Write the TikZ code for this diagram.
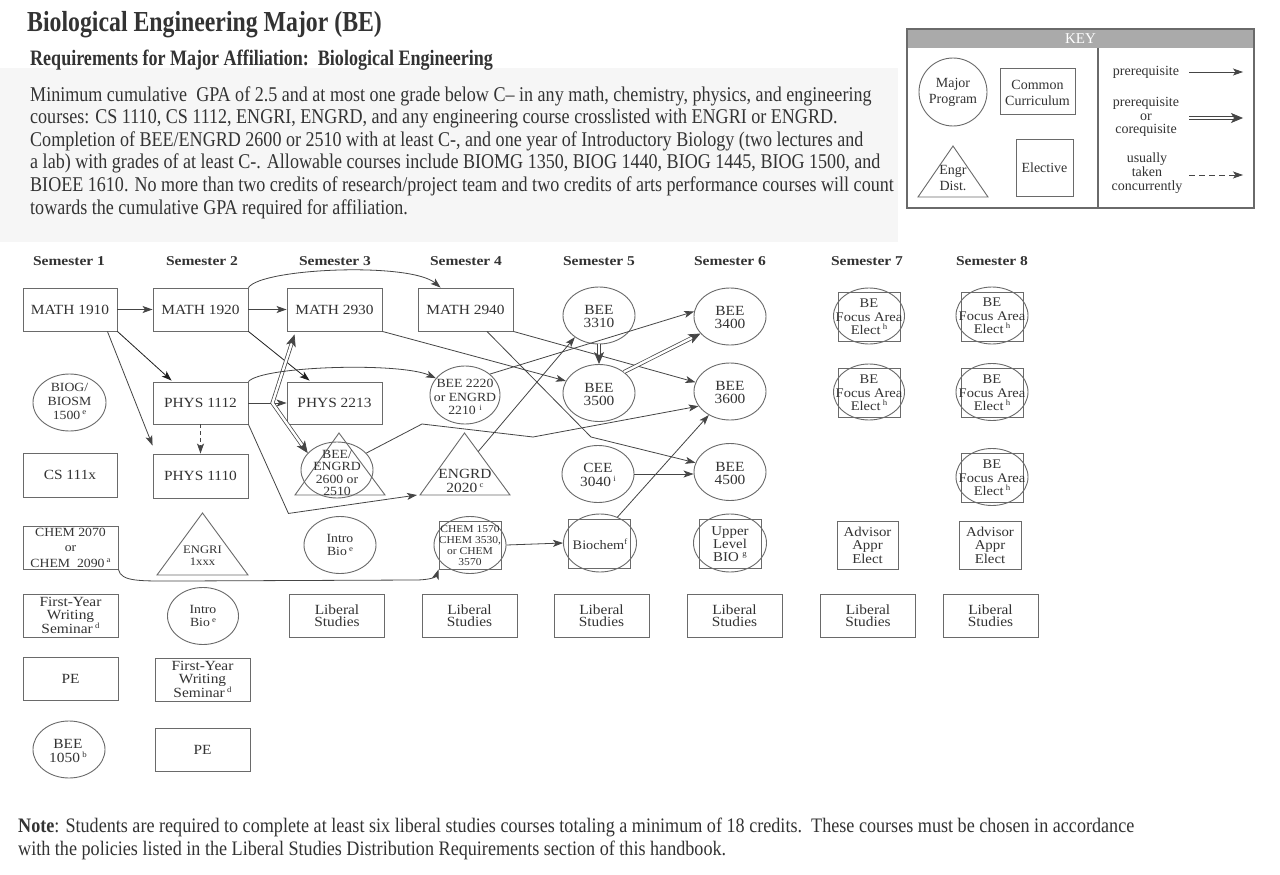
\documentclass[tikz,border=0pt]{standalone}
\usepackage{fontspec}
\setmainfont{Liberation Serif}
\newfontfamily\condfont[FakeStretch=0.82]{Liberation Serif}
\newfontfamily\bodyfont[FakeStretch=0.86]{Liberation Serif}
\newfontfamily\notefont[FakeStretch=0.88]{Liberation Serif}
\newfontfamily\nodefont[FakeStretch=1.1]{Liberation Serif}
\newfontfamily\hdrfont[FakeStretch=1.15]{Liberation Serif}
\usetikzlibrary{shapes.geometric,arrows.meta,calc}
\definecolor{tc}{HTML}{333333}
\definecolor{lc}{HTML}{6A6A6A}
\definecolor{ac}{HTML}{454545}
\definecolor{dk}{HTML}{1E1E1E}
\definecolor{bg}{HTML}{F6F6F6}
\definecolor{keyband}{HTML}{AAAAAA}
\newcommand{\fsz}[2]{\fontsize{#1}{#2}\selectfont}
\newcommand{\sps}[1]{\raisebox{0.8ex}{\fontsize{8}{8}\selectfont #1}}
\begin{document}
\begin{tikzpicture}[x=1pt,y=-1pt,
 box/.style={draw=lc,line width=0.9pt,rectangle,inner sep=0pt,align=center,text=tc,font=\nodefont\fsz{14}{13}},
 ell/.style={draw=lc,line width=0.9pt,ellipse,inner sep=0pt,minimum width=72pt,minimum height=57pt},
 lbl/.style={inner sep=0pt,align=center,text=tc,font=\nodefont\fsz{14}{13}},
 tri/.style={draw=lc,line width=0.9pt,line join=miter},
 arr/.style={draw=ac,line width=0.8pt,-{Stealth[length=10pt,width=7pt,inset=2.5pt]}},
 darr/.style={arr,draw=dk},
 dsh/.style={arr,dash pattern=on 4pt off 3pt},
 dbl/.style={draw=ac,line width=0.75pt,double=white,double distance=2.4pt,-{Stealth[length=12pt,width=10pt,inset=3pt]}},
 sem/.style={font=\hdrfont\bfseries\fsz{13.5}{15},text=tc,inner sep=0pt},
 keyt/.style={inner sep=0pt,align=center,text=tc,font=\fsz{14}{16}},
 body/.style={anchor=base west,inner sep=0pt,text=tc,font=\bodyfont\fsz{21}{22}}
]
\useasboundingbox (0,0) rectangle (1280,875);
\fill[white] (0,0) rectangle (1280,875);
\fill[bg] (0,68) rectangle (898,242);

% ---------- header text ----------
\node[anchor=base west,inner sep=0pt,text=tc,font=\condfont\bfseries\fsz{29}{30}] (title) at (27,32) {Biological Engineering Major (BE)};
\node[anchor=base west,inner sep=0pt,text=tc,font=\condfont\bfseries\fsz{22}{22}] (sub) at (30,66) {Requirements for Major Affiliation:\ \ Biological Engineering};
\node[body] (t1) at (30,101) {Minimum cumulative\ \ GPA of 2.5 and at most one grade below C– in any math, chemistry, physics, and engineering};
\node[body] (t2) at (30,123.6) {courses: CS 1110, CS 1112, ENGRI, ENGRD, and any engineering course crosslisted with ENGRI or ENGRD.};
\node[body] (t3) at (30,146.2) {Completion of BEE/ENGRD 2600 or 2510 with at least C-, and one year of Introductory Biology (two lectures and};
\node[body] (t4) at (30,168.8) {a lab) with grades of at least C-. Allowable courses include BIOMG 1350, BIOG 1440, BIOG 1445, BIOG 1500, and};
\node[body] (t5) at (30,191.4) {BIOEE 1610. No more than two credits of research/project team and two credits of arts performance courses will count};
\node[body] (t6) at (30,214) {towards the cumulative GPA required for affiliation.};

% ---------- key ----------
\fill[keyband] (907,29) rectangle (1254,48);
\node[inner sep=0pt,text=white,font=\fsz{15}{16}] (keyh) at (1080.5,39) {KEY};
\draw[lc,line width=1.1pt] (907,29) rectangle (1254,208);
\draw[lc,line width=1.1pt] (1098,48) -- (1098,208);
\node[draw=lc,line width=0.9pt,circle,minimum size=68pt,inner sep=0pt] (kcirc) at (953,92) {};
\node[keyt] (kmaj) at (953,92) {Major\\Program};
\node[draw=lc,line width=0.9pt,rectangle,minimum width=75pt,minimum height=46pt,inner sep=0pt] (kcom) at (1037.5,91) {};
\node[keyt] (kcomt) at (1037.5,93) {Common\\Curriculum};
\coordinate (kta) at (953,146); \coordinate (ktl) at (918,197); \coordinate (ktr) at (988,197);
\draw[tri] (kta) -- (ktl) -- (ktr) -- cycle;
\node[keyt] (ktri) at (953,178) {Engr\\Dist.};
\node[draw=lc,line width=0.9pt,rectangle,minimum width=57pt,minimum height=57pt,inner sep=0pt] (kel) at (1044.5,167.5) {};
\node[keyt] (kelt) at (1044.5,168) {Elective};
\node[keyt] (kp1) at (1146,72) {prerequisite};
\node[keyt,font=\fsz{14}{13.5}] (kp2) at (1146,117) {prerequisite\\or\\corequisite};
\node[keyt,font=\fsz{14}{14}] (kp3) at (1147,173) {usually\\taken\\concurrently};
\coordinate (ka1) at (1189,72); \coordinate (ka2) at (1243,72);
\coordinate (kb1) at (1189,118); \coordinate (kb2) at (1243,118);
\coordinate (kc1) at (1189,175); \coordinate (kc2) at (1243,175);
\draw[arr] (ka1) -- (ka2);
\draw[dbl] (kb1) -- (kb2);
\draw[dsh,dash pattern=on 6pt off 4pt] (kc1) -- (kc2);

% ---------- semester headers ----------
\node[sem] (s1) at (69,261) {Semester 1};
\node[sem] (s2) at (202,261) {Semester 2};
\node[sem] (s3) at (335,261) {Semester 3};
\node[sem] (s4) at (466,261) {Semester 4};
\node[sem] (s5) at (599,261) {Semester 5};
\node[sem] (s6) at (730,261) {Semester 6};
\node[sem] (s7) at (867,261) {Semester 7};
\node[sem] (s8) at (992,261) {Semester 8};

% ---------- semester 1 ----------
\node[box,minimum width=94pt,minimum height=43pt] (m1910) at (70,309.5) {MATH 1910};
\node[ell,minimum width=73pt,minimum height=57pt] (biog) at (69.5,402.5) {};
\node[lbl,font=\nodefont\fsz{12.5}{14}] (biogt) at (69.5,401) {BIOG/\\BIOSM\\1500\,\sps{e}};
\node[box,minimum width=94pt,minimum height=44pt] (cs) at (70,475) {CS 111x};
\node[box,minimum width=95pt,minimum height=43pt,font=\nodefont\fsz{12.5}{15.5}] (chem) at (70.5,547.5) {CHEM 2070\\or\\CHEM\ \ 2090\,\sps{a}};
\node[box,minimum width=95pt,minimum height=43pt] (fy1) at (70.5,615.5) {First-Year\\Writing\\Seminar\,\sps{d}};
\node[box,minimum width=95pt,minimum height=43pt] (pe1) at (70.5,678.5) {PE};
\node[ell,minimum width=72pt,minimum height=57pt] (b1050) at (69,749.5) {};
\node[lbl,font=\nodefont\fsz{14}{14}] (b1050t) at (68,751) {BEE\\1050\,\sps{b}};

% ---------- semester 2 ----------
\node[box,minimum width=95pt,minimum height=43pt] (m1920) at (200.5,309.5) {MATH 1920};
\node[box,minimum width=95pt,minimum height=42pt] (p1112) at (200.5,403) {PHYS 1112};
\node[box,minimum width=95pt,minimum height=44pt] (p1110) at (200.5,476) {PHYS 1110};
\coordinate (gia) at (202.5,513); \coordinate (gil) at (157,575); \coordinate (gir) at (248,575);
\draw[tri] (gia) -- (gil) -- (gir) -- cycle;
\node[lbl,font=\nodefont\fsz{11.5}{12}] (engri) at (202.5,556) {ENGRI\\1xxx};
\node[ell,minimum width=71pt,minimum height=57pt] (ib2) at (203,616) {};
\node[lbl,font=\nodefont\fsz{12.5}{13.5}] (ib2t) at (203,616) {Intro\\Bio\,\sps{e}};
\node[box,minimum width=95pt,minimum height=43pt] (fy2) at (202.5,679.5) {First-Year\\Writing\\Seminar\,\sps{d}};
\node[box,minimum width=95pt,minimum height=43pt] (pe2) at (202.5,749.5) {PE};

% ---------- semester 3 ----------
\node[box,minimum width=95pt,minimum height=43pt] (m2930) at (334.5,309.5) {MATH 2930};
\node[box,minimum width=95pt,minimum height=42pt] (p2213) at (334.5,403) {PHYS 2213};
\coordinate (b26a) at (339,433); \coordinate (b26l) at (295,495); \coordinate (b26r) at (385,495);
\draw[tri] (b26a) -- (b26l) -- (b26r) -- cycle;
\node[ell,minimum width=72pt,minimum height=56pt] (bee2600) at (337,470) {};
\node[lbl,font=\nodefont\fsz{12.5}{12.3}] (bee2600t) at (337,473) {BEE/\\ENGRD\\2600 or\\2510};
\node[ell,minimum width=72pt,minimum height=57pt] (ib3) at (340,545) {};
\node[lbl,font=\nodefont\fsz{12.5}{13.5}] (ib3t) at (340,545) {Intro\\Bio\,\sps{e}};
\node[box,minimum width=95pt,minimum height=43pt,font=\nodefont\fsz{14}{12.5}] (ls3) at (337,615.5) {Liberal\\Studies};

% ---------- semester 4 ----------
\node[box,minimum width=95pt,minimum height=43pt] (m2940) at (465.5,309.5) {MATH 2940};
\node[ell,minimum width=70pt,minimum height=58pt] (bee2220) at (465,395) {};
\node[lbl,font=\nodefont\fsz{12.5}{13.5}] (bee2220t) at (465,397) {BEE 2220\\or ENGRD\\2210\ \sps{i}};
\coordinate (e20a) at (464.5,433); \coordinate (e20l) at (420,495); \coordinate (e20r) at (510,495);
\draw[tri] (e20a) -- (e20l) -- (e20r) -- cycle;
\node[lbl,font=\nodefont\fsz{14}{14}] (engrd) at (465,481) {ENGRD\\2020\,\sps{c}};
\node[box,minimum width=62pt,minimum height=48pt] (c1570b) at (470,545) {};
\node[ell,minimum width=72pt,minimum height=57pt] (c1570) at (470,545) {};
\node[lbl,font=\nodefont\fsz{10.5}{11}] (c1570t) at (470,546) {CHEM 1570\\CHEM 3530,\\or CHEM\\3570};
\node[box,minimum width=95pt,minimum height=43pt,font=\nodefont\fsz{14}{12.5}] (ls4) at (469.5,615.5) {Liberal\\Studies};

% ---------- semester 5 ----------
\node[ell] (bee3310) at (599,315.5) {};
\node[lbl] (bee3310t) at (599,316) {BEE\\3310};
\node[ell] (bee3500) at (599,393) {};
\node[lbl] (bee3500t) at (599,394) {BEE\\3500};
\node[ell] (cee3040) at (598,474) {};
\node[lbl,font=\nodefont\fsz{14}{14}] (cee3040t) at (598,475) {CEE\\3040\,\sps{i}};
\node[box,minimum width=62pt,minimum height=49pt] (biochemb) at (599,543.5) {};
\node[ell,minimum width=73pt,minimum height=58pt] (biochem) at (600,543) {};
\node[lbl,font=\nodefont\fsz{13}{13}] (biochemt) at (600,544) {Biochem\sps{f}};
\node[box,minimum width=95pt,minimum height=43pt,font=\nodefont\fsz{14}{12.5}] (ls5) at (601.5,615.5) {Liberal\\Studies};

% ---------- semester 6 ----------
\node[ell] (bee3400) at (730,316.5) {};
\node[lbl] (bee3400t) at (730,317) {BEE\\3400};
\node[ell] (bee3600) at (730,391.5) {};
\node[lbl] (bee3600t) at (730,392) {BEE\\3600};
\node[ell] (bee4500) at (730,472) {};
\node[lbl] (bee4500t) at (730,473) {BEE\\4500};
\node[box,minimum width=62pt,minimum height=49pt] (ubb) at (730,543.5) {};
\node[ell,minimum width=73pt,minimum height=58pt] (ub) at (730,543) {};
\node[lbl,font=\nodefont\fsz{13.5}{13}] (ubt) at (730,544) {Upper\\Level\\BIO\ \sps{g}};
\node[box,minimum width=95pt,minimum height=43pt,font=\nodefont\fsz{14}{12.5}] (ls6) at (734.5,615.5) {Liberal\\Studies};

% ---------- semester 7 ----------
\node[box,minimum width=62pt,minimum height=49pt] (f7ab) at (869,316.5) {};
\node[ell,minimum width=71pt,minimum height=56pt] (f7a) at (869,316) {};
\node[lbl,font=\nodefont\fsz{13.2}{13.4}] (f7at) at (869,317) {BE\\Focus Area\\Elect\,\sps{h}};
\node[box,minimum width=62pt,minimum height=49pt] (f7bb) at (869,392.5) {};
\node[ell,minimum width=71pt,minimum height=56pt] (f7b) at (869,392) {};
\node[lbl,font=\nodefont\fsz{13.2}{13.4}] (f7bt) at (869,393) {BE\\Focus Area\\Elect\,\sps{h}};
\node[box,minimum width=61pt,minimum height=48pt,font=\nodefont\fsz{13.5}{13.5}] (adv7) at (867.5,545) {Advisor\\Appr\\Elect};
\node[box,minimum width=95pt,minimum height=43pt,font=\nodefont\fsz{14}{12.5}] (ls7) at (868,615.5) {Liberal\\Studies};

% ---------- semester 8 ----------
\node[box,minimum width=62pt,minimum height=49pt] (f8ab) at (992,316.5) {};
\node[ell,minimum width=72pt,minimum height=57pt] (f8a) at (992,315.5) {};
\node[lbl,font=\nodefont\fsz{13.2}{13.4}] (f8at) at (992,316) {BE\\Focus Area\\Elect\,\sps{h}};
\node[box,minimum width=62pt,minimum height=49pt] (f8bb) at (992,392.5) {};
\node[ell,minimum width=72pt,minimum height=57pt] (f8b) at (992,392) {};
\node[lbl,font=\nodefont\fsz{13.2}{13.4}] (f8bt) at (992,393) {BE\\Focus Area\\Elect\,\sps{h}};
\node[box,minimum width=62pt,minimum height=49pt] (f8cb) at (992,477.5) {};
\node[ell,minimum width=72pt,minimum height=57pt] (f8c) at (992,477) {};
\node[lbl,font=\nodefont\fsz{13.2}{13.4}] (f8ct) at (992,478) {BE\\Focus Area\\Elect\,\sps{h}};
\node[box,minimum width=62pt,minimum height=48pt,font=\nodefont\fsz{13.5}{13.5}] (adv8) at (990,545) {Advisor\\Appr\\Elect};
\node[box,minimum width=95pt,minimum height=43pt,font=\nodefont\fsz{14}{12.5}] (ls8) at (990.5,615.5) {Liberal\\Studies};

% ---------- connectors ----------
\draw[arr] (m1910.east) -- (m1920.west);
\draw[arr] (m1920.east) -- (m2930.west);
\draw[arr] (m1920.north east) .. controls (262,268) and (410,262) .. ($(m2940.north west)+(23,0)$);
\draw[darr] (m1910.south east) -- ($(p1112.north west)+(19,-1)$);
\draw[arr] ($(m1910.south east)+(-10,0)$) -- ($(p1110.north west)+(0,-8)$);
\draw[darr] (m1920.south east) -- ($(p2213.north west)+(23,-1)$);
\draw[arr] (p1112.east) -- (p2213.west);
\coordinate (kink) at ($(p1112.east)+(24,0)$);
\draw[dbl,{Stealth[length=12pt,width=10pt,inset=3pt]}-{Stealth[length=12pt,width=10pt,inset=3pt]}] ($(m2930.south west)+(8,3)$) -- (kink) -- (bee2600.150);
\draw[arr] (p1112.north east) .. controls (262,366) and (400,362) .. (bee2220.150);
\draw[dsh] (p1112.south) -- (p1110.north);
\draw[arr] (p1112.south east) -- ($(p1112.south east)+(40,89)$) -- ($(e20l)+(-3,0)$);
\coordinate (w1) at (422,424);
\coordinate (w2) at (533,437);
\draw[arr] (bee2600.30) -- (w1) -- (w2) -- (bee3600.205);
\draw[arr] (m2930.south east) -- (bee3500.160);
\draw[arr] (m2940.south east) -- (bee3600.165);
\coordinate (w3) at (591,437);
\draw[arr] ($(m2940.south)+(21.5,0)$) -- (w3) -- (bee4500.165);
\draw[arr] (bee2220.40) -- (bee3400.172);
\draw[arr] ($(e20a)!0.3!(e20r)$) -- (bee3310.222);
\draw[dbl] (bee3310.south) -- (bee3500.north);
\draw[dbl] (bee3500.40) -- (bee3400.210);
\draw[arr] (cee3040.east) -- (cee3040.east -| bee4500.west);
\draw[arr] (biochem.56) -- (bee3600.228);
\draw[arr] (chem.south east) .. controls (121,582) and (140,581) .. (180,581) -- (415,580) .. controls (430,580) and (436,577) .. (c1570b.south west);
\draw[arr] (c1570.east) -- (biochem.west);

% ---------- note ----------
\node[body,font=\notefont\fsz{20.6}{22}] (n1) at (18,832) {\textbf{Note}: Students are required to complete at least six liberal studies courses totaling a minimum of 18 credits.\ \ These courses must be chosen in accordance};
\node[body,font=\notefont\fsz{20.6}{22}] (n2) at (18,855) {with the policies listed in the Liberal Studies Distribution Requirements section of this handbook.};
\end{tikzpicture}
\end{document}
